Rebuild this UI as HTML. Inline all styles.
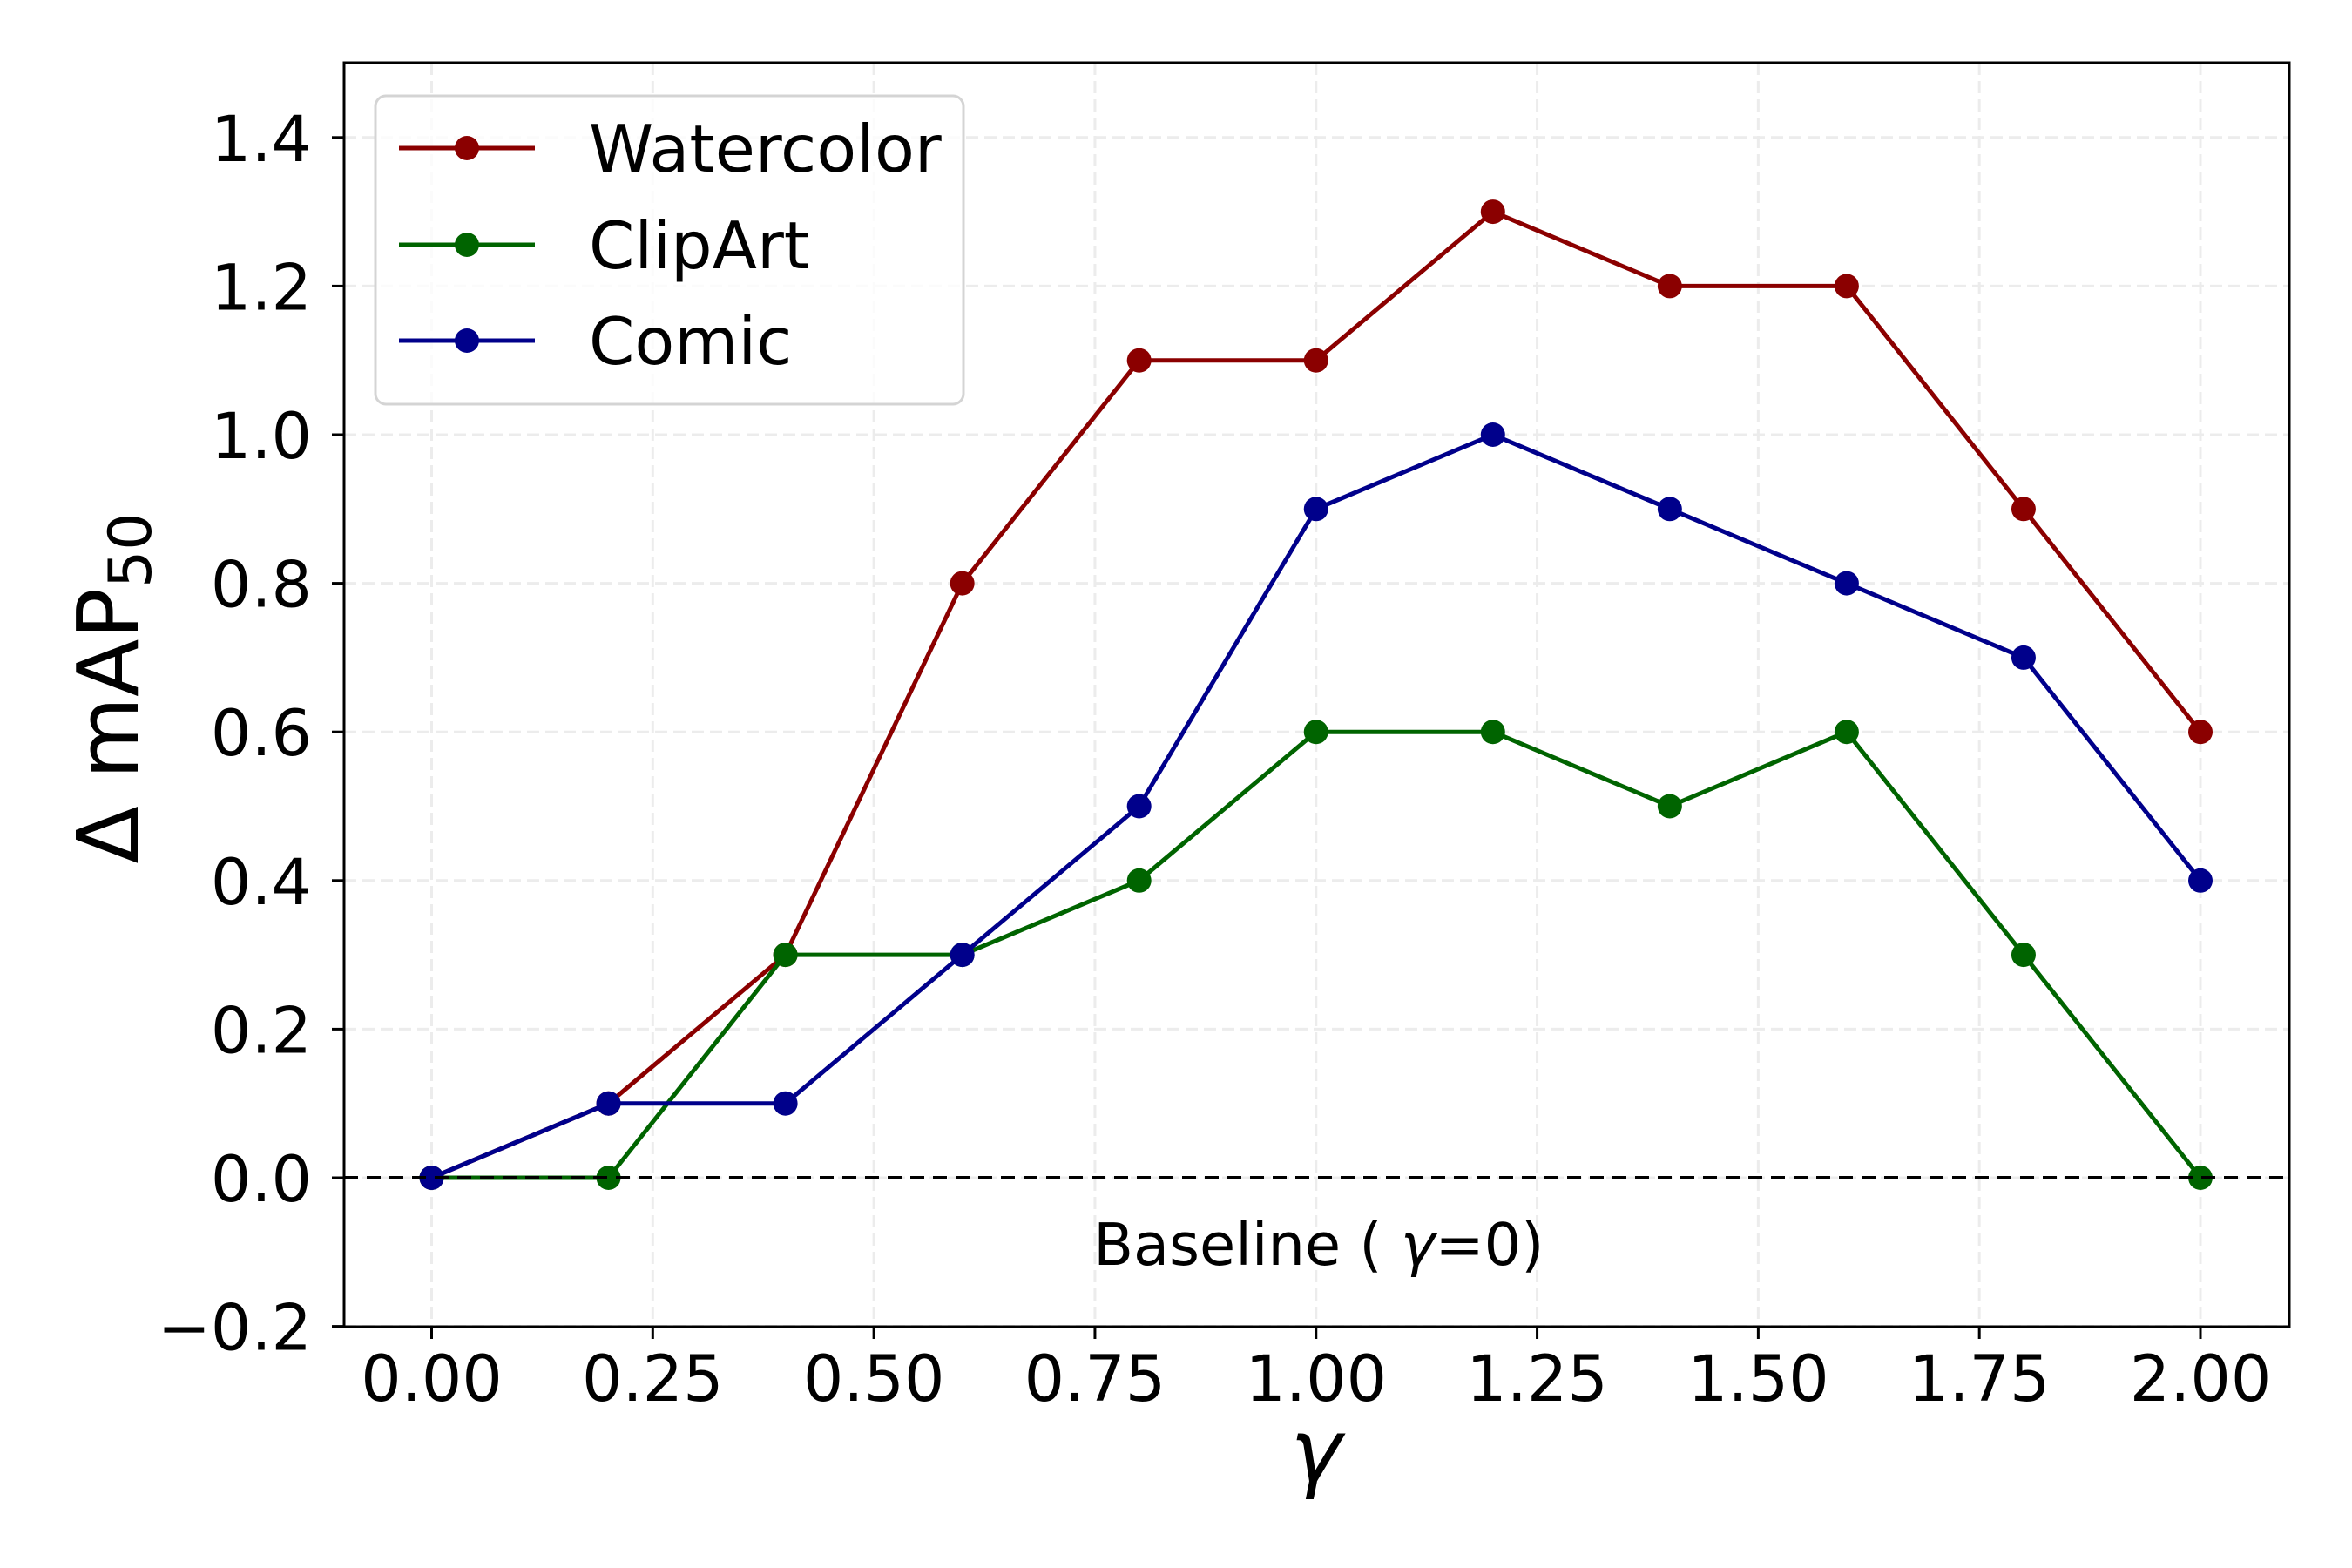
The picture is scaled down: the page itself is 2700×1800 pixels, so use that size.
<!DOCTYPE html>
<html><head><meta charset="utf-8"><style>
html,body{margin:0;padding:0;background:#fff;}
svg{display:block;font-family:"DejaVu Sans","Liberation Sans",sans-serif;}
</style></head><body>
<svg id="chart" width="2700" height="1800" viewBox="0 0 2700 1800" xmlns="http://www.w3.org/2000/svg">
<rect width="2700" height="1800" fill="#fff"/>
<g id="grid"></g>
<g id="series"></g>
<g id="axes"></g>
<g id="legend"></g>
</svg>
<script>
const xValues = [0, 0.2, 0.4, 0.6, 0.8, 1.0, 1.2, 1.4, 1.6, 1.8, 2.0];
const watercolor = [0, 0.1, 0.3, 0.8, 1.1, 1.1, 1.3, 1.2, 1.2, 0.9, 0.6];
const clipart = [0, 0, 0.3, 0.3, 0.4, 0.6, 0.6, 0.5, 0.6, 0.3, 0];
const comic = [0, 0.1, 0.1, 0.3, 0.5, 0.9, 1.0, 0.9, 0.8, 0.7, 0.4];
const seriesNames = ["Watercolor", "ClipArt", "Comic"];
const xTicks = [0, 0.25, 0.5, 0.75, 1.0, 1.25, 1.5, 1.75, 2.0];
const xTickLabels = ["0.00", "0.25", "0.50", "0.75", "1.00", "1.25", "1.50", "1.75", "2.00"];
const yTicks = [-0.2, 0, 0.2, 0.4, 0.6, 0.8, 1.0, 1.2, 1.4];
const yTickLabels = ["\u22120.2", "0.0", "0.2", "0.4", "0.6", "0.8", "1.0", "1.2", "1.4"];

const NS = "http://www.w3.org/2000/svg";
const L = 395, R = 2628, T = 72, B = 1523;
const X0 = 495.5, XS = 1015.25;
const Y0 = 1352, YS = 853;
function sx(v){ return X0 + v * XS; }
function sy(v){ return Y0 - v * YS; }
function mk(tag, attrs, parent){
  const e = document.createElementNS(NS, tag);
  for (const k in attrs) e.setAttribute(k, attrs[k]);
  parent.appendChild(e);
  return e;
}
const grid = document.getElementById('grid');
const axes = document.getElementById('axes');
const sg = document.getElementById('series');
const lg = document.getElementById('legend');

xTicks.forEach((t, i) => {
  const g = mk('line', {x1:sx(t), x2:sx(t), y1:T, y2:B, stroke:'#ececec', 'stroke-width':3, 'stroke-dasharray':'14,7'}, grid);
  
  
  const tk = mk('line', {x1:sx(t), x2:sx(t), y1:B, y2:B+14, stroke:'#000', 'stroke-width':3}, axes);
  
  
  const tl = mk('text', {x:sx(t), y:1608, 'font-size':73, 'text-anchor':'middle', fill:'#000'}, axes);
  tl.textContent = xTickLabels[i];
  
  
});
yTicks.forEach((t, i) => {
  const g = mk('line', {x1:L, x2:R, y1:sy(t), y2:sy(t), stroke:'#ececec', 'stroke-width':3, 'stroke-dasharray':'14,7'}, grid);
  
  
  const tk = mk('line', {x1:L-14, x2:L, y1:sy(t), y2:sy(t), stroke:'#000', 'stroke-width':3}, axes);
  
  
  const tl = mk('text', {x:358, y:sy(t)+27, 'font-size':73, 'text-anchor':'end', fill:'#000'}, axes);
  tl.textContent = yTickLabels[i];
  
  
});

const colors = ['#8b0000', '#006400', '#00008b'];
[watercolor, clipart, comic].forEach((vals, si) => {
  const pts = vals.map((v, i) => sx(xValues[i]) + ',' + sy(v)).join(' ');
  const pl = mk('polyline', {points:pts, fill:'none', stroke:colors[si], 'stroke-width':5, 'stroke-linejoin':'round'}, sg);
  
  
  vals.forEach((v, i) => {
    const c = mk('circle', {cx:sx(xValues[i]), cy:sy(v), r:14, fill:colors[si]}, sg);
    
    
  });
});

const bl = mk('line', {x1:L, x2:R, y1:sy(0), y2:sy(0), stroke:'#000', 'stroke-width':4, 'stroke-dasharray':'16,10'}, sg);


const bt = mk('text', {x:sx(1.0)+3, y:1452, 'font-size':67, 'text-anchor':'middle', fill:'#000'}, sg);
bt.innerHTML = 'Baseline ( <tspan font-style="italic">γ</tspan>=0)';



const frame = mk('rect', {x:L, y:T, width:R-L, height:B-T, fill:'none', stroke:'#000', 'stroke-width':3}, axes);



const xl = mk('text', {x:sx(1.0), y:1700, 'font-size':100, 'font-style':'italic', 'text-anchor':'middle', fill:'#000'}, axes);
xl.textContent = 'γ';


const yl = mk('text', {x:0, y:0, 'font-size':97, 'text-anchor':'middle', fill:'#000', transform:'translate(158,790) rotate(-90)'}, axes);
yl.innerHTML = 'Δ mAP<tspan font-size="68" dy="15">50</tspan>';



const box = mk('rect', {x:431, y:110, width:675, height:354, rx:12, fill:'#fff', 'fill-opacity':0.8, stroke:'#d4d4d4', 'stroke-width':3}, lg);


const rowsY = [170, 281, 391];
seriesNames.forEach((n, i) => {
  const g = mk('g', {}, lg);
  
  
  mk('line', {x1:458, x2:614, y1:rowsY[i], y2:rowsY[i], stroke:colors[i], 'stroke-width':5}, g);
  mk('circle', {cx:536, cy:rowsY[i], r:14, fill:colors[i]}, g);
  const t = mk('text', {x:676, y:rowsY[i]+27, 'font-size':75, fill:'#000'}, g);
  t.textContent = n;
});
</script>
</body></html>
